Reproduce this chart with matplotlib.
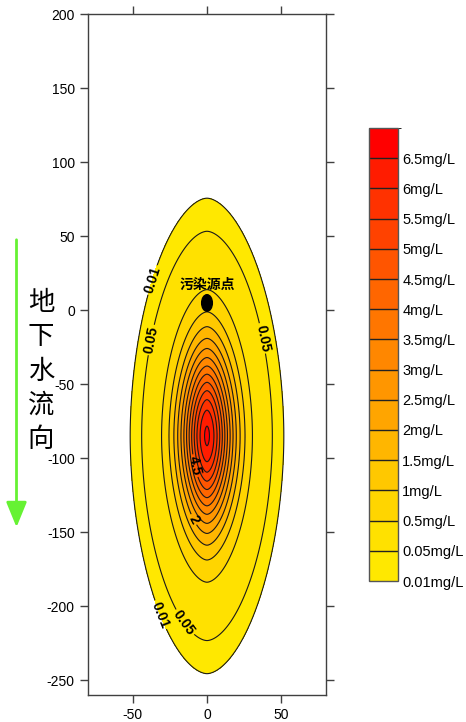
import numpy as np
import matplotlib
matplotlib.use("Agg")
import matplotlib.pyplot as plt
from matplotlib.colors import ListedColormap, BoundaryNorm
from matplotlib.patches import Ellipse, FancyArrowPatch
import matplotlib.colorbar as mcolorbar

# ---- data ----
levels = [0.01, 0.05, 0.5, 1, 1.5, 2, 2.5, 3, 3.5, 4, 4.5, 5, 5.5, 6, 6.5]
top_value = 6.7
peak_conc = 6.6
plume_cx, plume_cy = 0.0, -85.0
scale_x, power_x = 17.8, 1.756
scale_y, power_y = 60.0, 1.9
source_x, source_y = [0.0], [4.8]
source_label = "污染源点"
flow_label = "地下水流向"
x_ticks = [-50, 0, 50]
y_ticks = [200, 150, 100, 50, 0, -50, -100, -150, -200, -250]
x_range = (-80, 80)
y_range = (-260, 200)
fill_colors = ["#FFE800", "#FFE100", "#FFD500", "#FFC800", "#FFB600", "#FFA500",
               "#FF9600", "#FF8700", "#FF7600", "#FF6600", "#FF5500", "#FF4200",
               "#FF3200", "#FF1C00", "#FF0000"]
label_levels = [0.01, 0.05, 0.05, 4.5, 2, 0.01, 0.05]
label_spots = [(-40.5, 21.6), (-38.5, -20), (37.8, -19), (-7.4, -105),
               (-10, -142), (-31.8, -206), (-18, -213)]

plt.rcParams['font.family'] = ['Liberation Sans', 'Noto Sans CJK SC', 'DejaVu Sans']
plt.rcParams['axes.unicode_minus'] = False

fig = plt.figure(figsize=(4.66, 7.22), dpi=100)
ax = fig.add_axes([88/466, 27/722, 238/466, 681/722])

xg = np.linspace(x_range[0], x_range[1], 641)
yg = np.linspace(y_range[0], y_range[1], 1841)
X, Y = np.meshgrid(xg, yg)
Z = peak_conc * np.exp(-np.abs((X - plume_cx) / scale_x) ** power_x
                       - np.abs((Y - plume_cy) / scale_y) ** power_y)

fill_levels = levels + [top_value]
ax.contourf(X, Y, Z, levels=fill_levels, colors=fill_colors)

labelled = sorted(set(label_levels))
plain = [lv for lv in levels if lv not in labelled]
ax.contour(X, Y, Z, levels=plain, colors='#1a1a1a', linewidths=0.8)

def fmt(v):
    return "%g" % v

for lv in labelled:
    cs = ax.contour(X, Y, Z, levels=[lv], colors='#1a1a1a', linewidths=0.8)
    spots = [p for l, p in zip(label_levels, label_spots) if l == lv]
    texts = ax.clabel(cs, fmt=fmt, manual=spots, inline=True,
                      fontsize=10, colors='black', inline_spacing=2)
    for t in texts:
        t.set_fontweight('bold')

# source point
for sx, sy in zip(source_x, source_y):
    ax.add_patch(Ellipse((sx, sy), 7.2, 11.2, color='black', zorder=5))
    ax.text(sx, sy + 12, source_label, ha='center', va='center', fontsize=10,
            fontweight='bold', family=['Noto Sans CJK SC', 'DejaVu Sans'], zorder=6)

ax.set_xlim(*x_range)
ax.set_ylim(*y_range)
ax.set_xticks(x_ticks)
ax.set_yticks(y_ticks)
ax.tick_params(direction='out', length=6, width=1, colors='#404040',
               labelcolor='black', labelsize=10, top=True, right=True,
               labeltop=False, labelright=False)
for s in ax.spines.values():
    s.set_color('#404040')
    s.set_linewidth(1)

# colorbar
cax = fig.add_axes([369/466, (722-581)/722, 29/466, 453/722])
cmap = ListedColormap(fill_colors)
norm = BoundaryNorm(fill_levels, cmap.N)
cb = mcolorbar.ColorbarBase(cax, cmap=cmap, norm=norm, boundaries=fill_levels,
                            spacing='uniform', ticks=levels, drawedges=True)
cb.set_ticklabels(["%gmg/L" % v for v in levels])
cb.outline.set_edgecolor('#555555')
cb.outline.set_linewidth(1)
cb.dividers.set_color('#222222')
cb.dividers.set_linewidth(1)
cax.tick_params(length=0, labelsize=10.5, pad=3)

# flow arrow and label
fig.patches.append(FancyArrowPatch(
    (16.5/466, 1 - 237/722), (16.5/466, 1 - 530/722), transform=fig.transFigure,
    arrowstyle='-|>,head_length=1.1,head_width=0.45', mutation_scale=14,
    color='#66F233', linewidth=2))
fig.text(41/466, 1 - 371/722, "\n".join(flow_label), ha='center', va='center',
         fontsize=19, linespacing=1.35, fontweight='light',
         family=['Noto Sans CJK SC', 'DejaVu Sans'])

fig.savefig("out.png", dpi=100)
